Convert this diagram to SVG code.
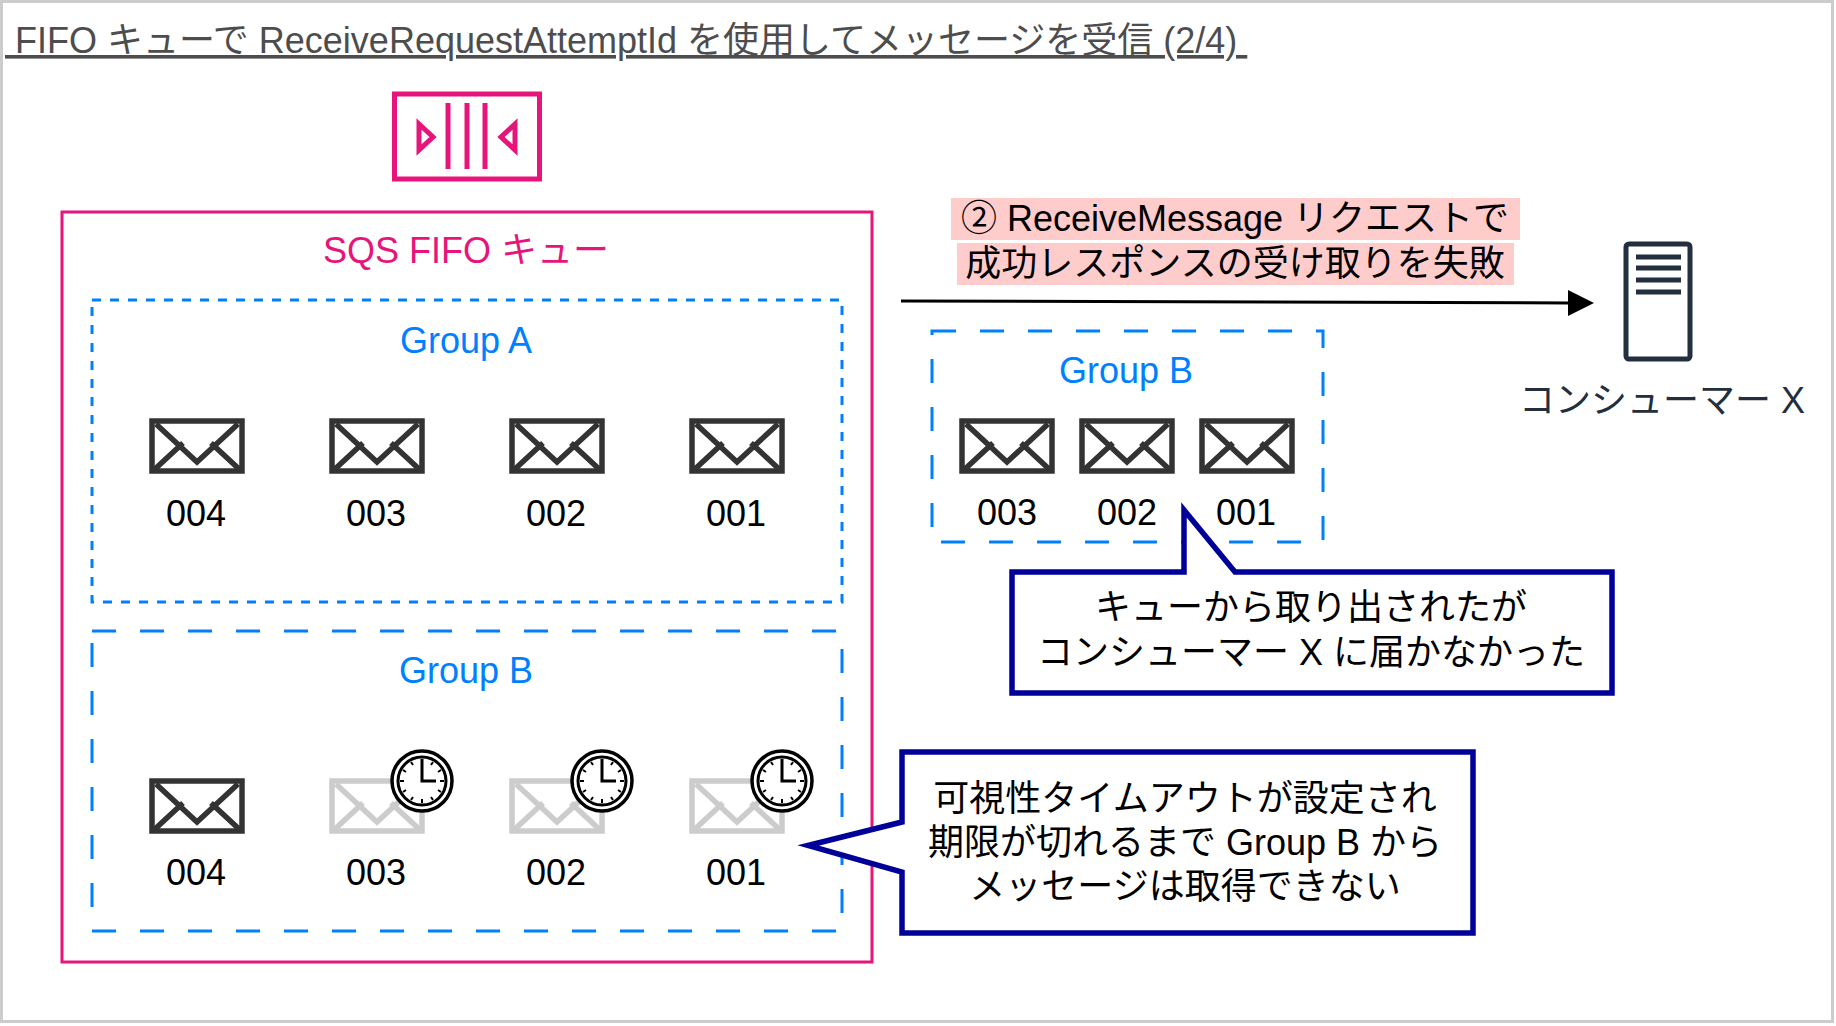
<svg xmlns="http://www.w3.org/2000/svg" width="1836" height="1026" viewBox="0 0 1836 1026">
<style>
text{font-family:"Liberation Sans","Noto Sans CJK JP",sans-serif;font-size:36px;text-anchor:middle;fill:#000}
.blue{fill:#007fff}
.dk{fill:#232f3e}
.gs{fill:none;stroke:#007fff;stroke-width:3;stroke-dasharray:24 24}
.ga{fill:none;stroke:#007fff;stroke-width:3;stroke-dasharray:9 9}
.m{fill:none;stroke:#333;stroke-width:5.5;stroke-linejoin:miter}
.g .m{stroke:#ccc}
.call{fill:#fff;stroke:#000099;stroke-width:5.5;stroke-miterlimit:10}
</style>
<defs>
<g id="mail"><rect x="3" y="3" width="90" height="50"/><path d="M7 6L48 44L89 6M6 51L34 25M90 51L62 25" transform="translate(0 0)"/></g>
<g id="clock"><circle r="30" fill="#fff" stroke="#000" stroke-width="3.5"/><circle r="24" fill="#fff" stroke="#000" stroke-width="3"/><path d="M0 -22V0H14" fill="none" stroke="#000" stroke-width="3"/><path d="M0 -22V-18M11 -19L9 -16M19 -11L16 -9M22 0H18M19 11L16 9M11 19L9 16M0 22V18M-11 19L-9 16M-19 11L-16 9M-22 0H-18M-19 -11L-16 -9M-11 -19L-9 -16" fill="none" stroke="#000" stroke-width="2"/></g>
</defs>
<rect id="frame" x="1.5" y="1.5" width="1831" height="1020" fill="#fff" stroke="#ccc" stroke-width="3"/>
<g id="title"><text x="5" y="53" style="text-anchor:start;white-space:pre;fill:#4d4d4d;text-decoration:underline"> FIFO キューで ReceiveRequestAttemptId を使用してメッセージを受信 (2/4) </text></g>
<g id="sqs-icon" fill="none" stroke="#e7157b"><rect x="394.500" y="94" width="145" height="85" stroke-width="5"/><path d="M448 103V169M467 103V169M485 103V169" stroke-width="5"/><path d="M419 124L433 137L419 150ZM515 124L501 137L515 150Z" stroke-width="5"/></g>
<g id="queue"><rect x="62" y="212" width="810" height="750" fill="none" stroke="#e7157b" stroke-width="3"/><text x="466" y="263" fill="#e7157b" style="fill:#e7157b">SQS FIFO キュー</text></g>
<g id="group-a"><rect class="ga" x="92" y="300" width="750" height="302"/><text class="blue" x="466" y="353">Group A</text>
<g class="m"><use href="#mail" x="149" y="418"/><use href="#mail" x="329" y="418"/><use href="#mail" x="509" y="418"/><use href="#mail" x="689" y="418"/></g>
<text x="196" y="526">004</text><text x="376" y="526">003</text><text x="556" y="526">002</text><text x="736" y="526">001</text></g>
<g id="group-b"><rect class="gs" x="92" y="631" width="750" height="300"/><text class="blue" x="466" y="683">Group B</text>
<g class="m"><use href="#mail" x="149" y="778"/></g>
<g class="g"><g class="m"><use href="#mail" x="329" y="778"/><use href="#mail" x="509" y="778"/><use href="#mail" x="689" y="778"/></g></g>
<use href="#clock" x="422" y="781"/><use href="#clock" x="602" y="781"/><use href="#clock" x="782" y="781"/>
<text x="196" y="885">004</text><text x="376" y="885">003</text><text x="556" y="885">002</text><text x="736" y="885">001</text></g>
<g id="connectors"><path d="M901 301L1570 303" fill="none" stroke="#000" stroke-width="3"/><path d="M1594 303L1568 316L1568 290Z" fill="#000"/></g>
<g id="edge-label"><rect x="951" y="198" width="569" height="42" fill="#fcc"/><rect x="957" y="243" width="557" height="42" fill="#fcc"/><text x="1235" y="231">② ReceiveMessage リクエストで</text><text x="1235" y="276">成功レスポンスの受け取りを失敗</text></g>
<g id="group-b-out"><rect class="gs" x="932" y="331" width="391" height="211"/><text class="blue" x="1126" y="383">Group B</text>
<g class="m"><use href="#mail" x="959" y="418"/><use href="#mail" x="1079" y="418"/><use href="#mail" x="1199" y="418"/></g>
<text x="1007" y="525">003</text><text x="1127" y="525">002</text><text x="1246" y="525">001</text></g>
<g id="consumer"><rect x="1626" y="244" width="64" height="115" rx="3" fill="none" stroke="#232f3e" stroke-width="5"/><path d="M1636 257H1681M1636 268H1681M1636 280H1681M1636 292H1681" stroke="#232f3e" stroke-width="5"/><text class="dk" x="1662" y="413">コンシューマー X</text></g>
<g id="callout-1"><path class="call" d="M1012 572H1184V510L1235 572H1612V693H1012Z"/><text x="1311" y="620">キューから取り出されたが</text><text x="1311" y="665">コンシューマー X に届かなかった</text></g>
<g id="callout-2"><path class="call" d="M902 752H1473V933H902V872L808 845.500L902 822Z"/><text x="1185" y="811">可視性タイムアウトが設定され</text><text x="1185" y="855">期限が切れるまで Group B から</text><text x="1185" y="899">メッセージは取得できない</text></g>
</svg>
